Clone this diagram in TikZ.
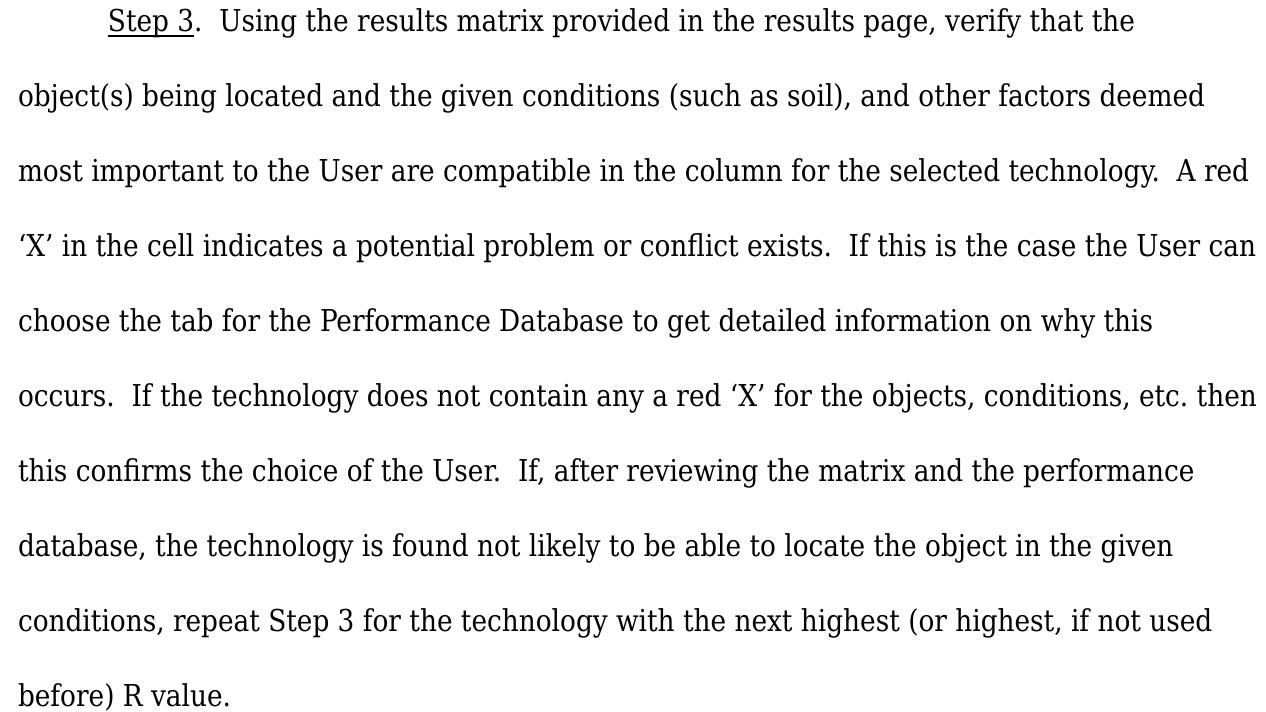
\documentclass[tikz,border=0pt]{standalone}
\usepackage{fontspec}
\setmainfont{DejaVu Serif Condensed}[FakeStretch=0.972]
\frenchspacing
\begin{document}
\begin{tikzpicture}[x=0.375pt,y=-0.375pt,
  textline/.style={anchor=base west, inner sep=0pt, outer sep=0pt,
    font=\fontsize{11.3}{13}\selectfont, text=black}]
\useasboundingbox (0,0) rectangle (1266,712);
% first line: indented, with the underlined step label
\node[textline] (step) at (108,32) {Step 3};
\draw[line width=0.75pt] ([yshift=-1.4pt]step.base west) -- ([yshift=-1.4pt]step.base east);
\node[textline] (l1) at (step.base east) {.\ \ Using the results matrix provided in the results page, verify that the};
\node[textline] (l2) at (18,107) {object(s) being located and the given conditions (such as soil), and other factors deemed};
\node[textline] (l3) at (18,182) {most important to the User are compatible in the column for the selected technology.\ \ A red};
\node[textline] (l4) at (18,257) {‘X’ in the cell indicates a potential problem or conflict exists.\ \ If this is the case the User can};
\node[textline] (l5) at (18,332) {choose the tab for the Performance Database to get detailed information on why this};
\node[textline] (l6) at (18,407) {occurs.\ \ If the technology does not contain any a red ‘X’ for the objects, conditions, etc. then};
\node[textline] (l7) at (18,482) {this confirms the choice of the User.\ \ If, after reviewing the matrix and the performance};
\node[textline] (l8) at (18,557) {database, the technology is found not likely to be able to locate the object in the given};
\node[textline] (l9) at (18,632) {conditions, repeat Step 3 for the technology with the next highest (or highest, if not used};
\node[textline] (l10) at (18,707) {before) R value.};
\end{tikzpicture}
\end{document}
